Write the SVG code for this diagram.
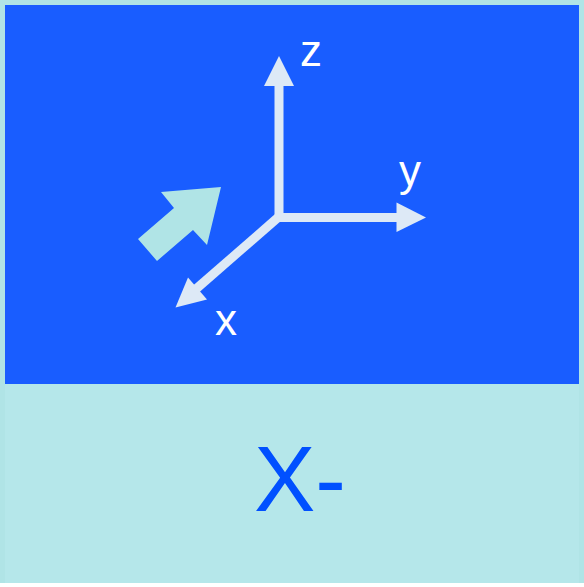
<svg xmlns="http://www.w3.org/2000/svg" width="584" height="587" viewBox="0 0 584 587">
<style>
.axis{stroke:#dde9f6;stroke-width:9;fill:none}
.head{fill:#dde9f6}
.lbl{font-family:"Liberation Sans",Arial,sans-serif;font-size:44px;fill:#ffffff}
</style>
<rect x="0" y="0" width="584" height="587" fill="#ffffff"/>
<g id="frame">
<rect x="0" y="0" width="584" height="583" fill="#b0e4e6"/>
<rect x="5" y="5" width="574" height="379" fill="#195dff"/>
<rect x="5" y="384" width="574" height="199" fill="#b5e7ea"/>
</g>
<g id="connectors">
<line class="axis" x1="279" y1="221" x2="279" y2="84"/>
<polygon class="head" points="279,56 264,86 294,86"/>
<line class="axis" x1="275" y1="217.5" x2="398" y2="217.5"/>
<polygon class="head" points="426,217.5 396.5,202.5 396.5,232"/>
<line class="axis" x1="282" y1="214" x2="196" y2="289"/>
<polygon class="head" points="175.5,307.5 188,277.5 207,299.5"/>
</g>
<g id="view-arrow">
<polygon fill="#b0e4e6" points="138,239 157,261 193,230 207,245 221,187 161,192 174,208"/>
</g>
<g id="labels">
<text class="lbl" x="300" y="66">z</text>
<text class="lbl" x="399" y="186">y</text>
<text class="lbl" x="215" y="335">x</text>
</g>
<g id="title">
<text x="254" y="511" font-family="Liberation Sans,Arial,sans-serif" font-size="92" fill="#0050ff">X-</text>
</g>
</svg>
